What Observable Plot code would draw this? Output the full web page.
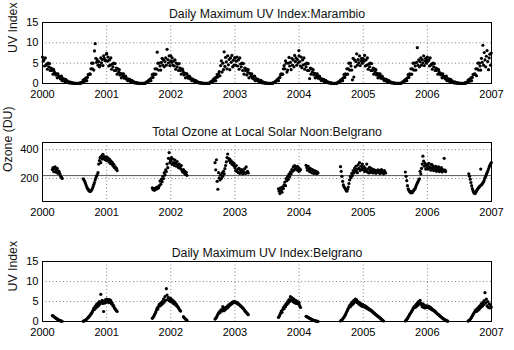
<!DOCTYPE html>
<html><head><meta charset="utf-8">
<script src="https://cdn.jsdelivr.net/npm/d3@7"></script>
<script src="https://cdn.jsdelivr.net/npm/@observablehq/plot@0.6"></script>
<style>
html,body{margin:0;padding:0;background:#fff;}
#chart svg{display:block;}
</style></head><body><div id="chart"></div>
<script>
const years = [2000, 2001, 2002, 2003, 2004, 2005, 2006];
const stepDays = 4; // one reading every 4 days; each segment = [index of first reading in the year, readings]
const xTicks = [2000, 2001, 2002, 2003, 2004, 2005, 2006, 2007];
const uvTicks = [0, 5, 10, 15];
const ozoneTicks = [200, 400];
const ozoneThreshold = [220];
const titles = ["Daily Maximum UV Index:Marambio", "Total Ozone at Local Solar Noon:Belgrano", "Daily Maximum UV Index:Belgrano"];
const yLabels = ["UV Index", "Ozone (DU)", "UV Index"];

const marambioUV = [
 [[0, [6.5,5.5,5.8,4.3,6.3,4.5,4.8,3.5,5.0,4.1, 4.9,3.2,3.8,3.2,3.6,2.3,3.4,2.8,2.5,2.1, 2.4,1.4,2.4,1.8,1.7,1.3,1.1,1.8,.7,1.2, .75,1.1,.44,1.0,.77,.63,.36,.33,.13,.41, .13,.22,.07,.17,.04,.08,.05,.03,.04,.02, .05,.03,.06,.04,.2,.08,.25,.4,.85,.5, 1.1,.65,1.4,.7,1.5,2.2,2.2,2.4,2.3,3.6, 5.0,3.6,5.0,3.3,8.0,9.8,6.2,5.2,5.8,4.5, 5.4,4.1,4.5,6.3,5.1,5.9,4.4,6.8,6.2,5.6, 5.7,7.2]]],
 [[0, [7.4,5.5,6.5,4.3,5.8,4.5,6.3,3.5,4.8,4.1, 5.0,3.2,4.9,3.2,3.8,2.3,3.6,2.8,3.4,2.1, 2.5,1.4,2.4,1.8,2.4,1.3,1.7,1.8,1.1,1.2, .7,1.1,.75,1.0,.44,.63,.77,.33,.36,.41, .13,.22,.13,.17,.07,.08,.04,.03,.05,.02, .04,.03,.05,.04,.06,.08,.2,.4,.25,.5, .85,.65,1.1,.7,1.4,2.2,1.5,2.4,2.2,3.6, 2.3,3.6,7.7,5.0,3.3,5.0,4.3,3.3,5.2,6.2, 4.5,5.8,4.1,5.4,6.3,4.5,8.4,5.9,5.1,6.8, 4.4,5.6]]],
 [[0, [6.8,5.2,6.3,4.5,5.5,4.3,5.8,3.5,5.0,4.1, 4.8,3.2,4.9,3.8,3.2,2.3,3.6,3.4,2.8,2.1, 2.5,1.4,2.4,2.4,1.8,1.3,1.8,1.7,1.1,1.2, .7,1.1,1.0,.75,.44,.77,.63,.33,.41,.36, .13,.22,.17,.13,.07,.08,.04,.05,.03,.02, .04,.05,.03,.06,.04,.08,.2,.4,.5,.25, .85,1.1,.65,1.4,.7,1.5,2.2,1.6,2.4,2.9, 1.9,4.4,5.6,2.8,5.0,3.4,7.8,4.2,6.4,5.3, 3.6,6.8,4.6,5.9,3.4,6.3,5.2,6.9,4.1,5.7, 4.5,6.3]]],
 [[0, [6.3,4.5,5.5,6.5,4.3,5.8,3.5,6.3,4.8,4.1, 5.0,3.2,4.9,2.3,3.8,3.2,3.6,2.1,2.8,3.4, 1.4,2.5,2.4,1.8,2.4,1.3,1.7,1.1,1.8,.7, 1.2,1.1,.75,1.0,.44,.63,.33,.77,.36,.13, .41,.22,.13,.07,.17,.08,.04,.03,.05,.02, .04,.05,.03,.06,.08,.2,.25,.4,.5,.65, .85,1.1,.7,1.4,1.5,2.2,2.4,2.2,2.3,3.6, 4.4,3.6,5.6,5.0,2.8,3.3,5.0,6.4,4.3,5.2, 3.4,6.2,4.5,5.8,4.1,6.9,5.4,6.3,4.5,5.9, 5.1,8.1]]],
 [[0, [6.8,5.4,4.3,6.5,3.9,5.8,4.6,6.3,3.5,4.8, 4.1,5.0,3.2,4.9,3.2,1.2,3.8,2.3,3.6,2.8, 3.4,2.1,2.5,1.4,2.4,1.8,2.4,1.3,1.7,1.8, 1.1,1.2,.7,1.1,.75,1.0,.44,.63,.77,.33, .36,.41,.13,.22,.13,.17,.07,.04,.05,.03, .04,.02,.05,.04,.08,.2,.4,.25,.5,.85, .65,1.1,.7,1.4,2.2,1.5,2.4,2.2,3.6,2.3, 3.6,5.0,3.3,5.0,4.3,3.3,.9,6.2,1.6,5.8, 4.1,5.4,7.3,4.5,5.9,5.1,6.8,4.4,5.6,6.2, 5.0,5.7]]],
 [[0, [6.1,5.5,6.9,4.3,5.8,4.5,6.3,3.5,4.8,4.1, 5.0,3.2,4.9,3.2,3.8,2.3,3.6,2.8,3.4,2.1, 2.5,1.4,2.4,1.8,2.4,1.3,1.7,1.8,1.1,1.2, .7,1.1,.75,1.0,.44,.63,.77,.33,.36,.41, .13,.22,.13,.17,.07,.08,.04,.03,.05,.02, .04,.03,.05,.04,.06,.2,.4,.25,.5,.85, .65,1.1,.7,1.4,2.2,1.5,2.4,2.2,3.6,2.3, 3.6,5.0,3.3,5.0,4.3,3.3,5.2,8.8,4.5,5.8, 4.1,5.4,6.3,4.5,5.9,5.1,6.8,4.4,5.6,6.2, 5.0,5.7]]],
 [[0, [6.5,5.5,5.8,4.3,6.3,4.5,4.8,3.5,5.0,4.1, 4.9,3.2,3.8,3.2,3.6,2.3,3.4,2.8,2.5,2.1, 2.4,1.4,2.4,1.8,1.7,1.3,1.1,1.8,.7,1.2, .75,1.1,.44,1.0,.77,.63,.36,.33,.13,.41, .13,.22,.07,.17,.04,.08,.05,.03,.04,.02, .05,.03,.06,.04,.2,.08,.25,.4,.85,.5, 1.1,.65,1.4,.7,1.5,2.2,2.2,2.4,2.3,3.6, 1.9,3.6,5.0,3.3,5.0,4.3,3.3,6.2,5.2,9.4, 4.5,7.6,5.8,4.1,6.7,8.1,5.4,3.4,6.3,7.2, 4.5,7.5]]]
];

const belgranoOzone = [
 [[14, [262,275,248,268,280,244,258,270,236,252,245,228,215,208,200]],
  [58, [198,190,180,168,155,142,132,124,117,112,110,114,120,130,143,158,172,190,205,218,226,240,300,325,345,310,355,335,368,340,352,330,345,325]]],
 [[0, [350,328,342,318,335,305,322,300,312,288,298,276,282,265,270,255]],
  [65, [135,122,130,118,132,125,138,128,142,135,150,182,160,195,178,215,200,240,225,260,248,300,275,340,380,310,330]]],
 [[0, [320,345,298,335,310,290,328,305,285,318,295,275,300,282,268,290,255,245,262,238,250,228,242,222]],
  [63, [310,260,330,180,125,240,205,190,225,200,238,215,250,232,268,290,315,345,370,340,325,335,310,322,300,312,292,305,285]]],
 [[0, [275,255,290,248,265,240,270,236,258,245,262,232,250,240,268,235,280,242,250,238]],
  [62, [128,112,95,135,118,105,142,130,155,175,150,200,185,215,195,230,212,245,232,262,250,280,258,290,268,275,260,285,265,250]]],
 [[0, [272,255,262]],
  [10, [292,275,258,285,265,248,270,255,240,262,245,235,255,240,250,232,245,238]],
  [59, [282,250,215,180,155,142,135,128,118,112,125,140,165,190,215,205,235,220,255,238,270,250,285,262,240,295,270,310,255,285,265,300,275]]],
 [[0, [260,282,248,270,255,300,245,265,238,278,255,242,268,250,238,262,248,256,236,252,244,260,240,255,235,250,262,240,248,232,255,245,238]],
  [60, [245,215,185,150,128,118,110,104,100,108,102,112,118,125,132,145,158,168,178,190,198,250,232,270,300,355,320,285,305,265,295,275]]],
 [[0, [292,265,305,275,282,258,298,270,288,255,278,262,285,250,272,258,280,248,265,255,275,245,262,252,340,258,248]],
  [59, [232,215,195,172,150,130,115,105,98,95,105,115,122,130,136,142,148,265,155,162,170,178,190,205,215,228,240,252,265,280,292,300,310]]]
];

const belgranoUV = [
 [[14, [1.5,1.4,1.25,1.1,.95,.85,.7,.6,.5,.4,.3,.22,.15,.1,.06]],
  [58, [.08,.12,.2,.3,.45,.6,.8,1.0,1.2,1.4,1.6,1.9,2.1,2.4,2.8,3.3,3.0,3.8,3.4,4.3,3.7,4.6,4.0,5.0,4.4,6.8,4.8,5.3,4.5,2.5,5.1,4.6,5.5,4.9]]],
 [[0, [5.6,5.0,5.4,4.7,5.5,4.9,5.2,4.4,4.6,3.9,4.0,3.4,3.2,2.9,2.7,2.5]],
  [65, [.8,1.0,1.3,1.6,2.0,2.4,2.9,3.4,3.1,3.8,4.3,3.9,4.6,4.2,5.0,4.5,5.6,4.9,6.2,5.3,8.2,6.6,5.5,6.0,5.2,5.8,5.0]]],
 [[0, [5.7,5.0,5.4,4.6,5.1,4.4,4.8,4.1,4.3,3.8,3.7,3.4,3.1,2.8,2.6]],
  [18, [1.2,1.0,.8,.6,.45,.3]],
  [63, [.6,.8,1.1,1.4,1.8,2.1,2.4,2.2,2.7,3.0,2.6,3.7,3.1,2.7,3.4,3.0,3.6,3.3,3.9,3.6,4.2,4.0,4.5,4.3,4.8,4.6,5.0,4.7,4.9]]],
 [[0, [4.8,4.9,4.6,4.7,4.4,4.5,4.2,4.1,3.9,3.7,3.6,3.4,3.2,3.0,2.7,2.5,2.3,2.1,1.9,1.7]],
  [62, [1.0,1.3,1.7,2.1,2.6,2.3,3.0,3.5,3.2,4.0,3.7,4.5,4.2,5.0,4.6,5.5,5.0,6.2,5.4,6.0,5.1,5.7,4.8,5.4,4.6,5.2,4.5,5.0,4.4,4.8]]],
 [[0, [4.4,3.9,3.5]],
  [10, [1.3,1.2,1.1,1.0,.9,.8,.7,.6,.5,.42,.35,.28,.22,.17,.12,.08,.05,.03]],
  [59, [.15,.25,.4,.6,.85,1.1,1.4,1.7,2.1,2.5,2.9,3.2,3.6,4.0,3.7,4.5,4.1,4.9,4.4,5.3,4.8,5.6,5.1,5.4,4.7,5.0,4.4,4.7,4.1,4.5,3.9,4.3,3.7]]],
 [[0, [4.1,3.7,4.0,3.5,3.8,3.3,3.5,3.1,3.2,2.9,3.0,2.7,2.7,2.4,2.4,2.1,2.1,1.8,1.8,1.5,1.5,1.2,1.2,1.0,.9,.7,.55,.4,.25,.12]],
  [60, [.15,.3,.55,.8,1.1,1.4,1.7,2.0,2.3,2.6,2.9,3.2,3.5,3.8,3.5,4.2,3.8,4.6,4.1,5.0,4.4,5.3,4.6,4.2,3.7,4.4,3.5,4.1,3.4,3.9,3.5,3.8]]],
 [[0, [3.9,3.5,3.8,3.3,3.6,3.1,3.3,2.9,3.0,2.7,2.7,2.4,2.4,2.1,2.0,1.8,1.7,1.5,1.4,1.2,1.1,.9,.8,.65,.55,.42,.32,.22,.15,.08]],
  [58, [.1,.2,.35,.55,.8,1.1,1.4,1.7,2.0,2.3,2.6,2.9,2.5,3.2,2.8,3.6,3.1,4.0,3.5,4.5,3.8,4.8,4.2,5.2,7.2,4.6,5.6,3.9,5.0,3.5,4.4,3.4,4.1,3.6]]]
];

function toRows(series) {
  return series.flatMap((segments, k) =>
    segments.flatMap(([start, vals]) =>
      vals.map((v, j) => ({x: years[k] + (start + j) * stepDays / 365.25, y: v}))));
}

const font = "'Liberation Sans', Arial, Helvetica, sans-serif";

function panel({rows, title, ylabel, yDomain, yTicks, height, mt, mb, titleDy, ylabelDx, extra = []}) {
  return Plot.plot({
    width: 514, height,
    marginLeft: 42, marginRight: 23, marginTop: mt, marginBottom: mb,
    style: {fontFamily: font, fontSize: "11px", color: "#000", background: "#fff", overflow: "visible"},
    x: {domain: [2000, 2007], label: null},
    y: {domain: yDomain, label: null},
    marks: [
      Plot.gridX(xTicks, {stroke: "#808080", strokeOpacity: 1, strokeDasharray: "1,2.5"}),
      Plot.gridY(yTicks, {stroke: "#808080", strokeOpacity: 1, strokeDasharray: "1,2.5"}),
      ...extra,
      Plot.dot(rows, {x: "x", y: "y", r: 1.6, fill: "#000", stroke: null}),
      Plot.axisX(xTicks, {tickSize: 0, tickPadding: 7, tickFormat: d => String(d), fontSize: 11, label: null}),
      Plot.axisY(yTicks, {tickSize: 0, tickPadding: 4, fontSize: 11, label: null}),
      Plot.frame({stroke: "#000", strokeWidth: 1}),
      Plot.text([title], {frameAnchor: "top", dy: titleDy, fontSize: 12.3, fill: "#111"}),
      Plot.text([ylabel], {frameAnchor: "left", dx: ylabelDx, rotate: -90, fontSize: 12.3, fill: "#111"})
    ]
  });
}

const chart = document.getElementById("chart");
chart.append(panel({rows: toRows(marambioUV), title: titles[0], ylabel: yLabels[0], yDomain: [0, 15], yTicks: uvTicks,
  height: 115, mt: 22, mb: 32, titleDy: -13, ylabelDx: -29}));
chart.append(panel({rows: toRows(belgranoOzone), title: titles[1], ylabel: yLabels[1], yDomain: [40, 450], yTicks: ozoneTicks,
  height: 115, mt: 27, mb: 29, titleDy: -15, ylabelDx: -34,
  extra: [Plot.ruleY(ozoneThreshold, {stroke: "#555", strokeWidth: 1})]}));
chart.append(panel({rows: toRows(belgranoUV), title: titles[2], ylabel: yLabels[2], yDomain: [0, 15], yTicks: uvTicks,
  height: 120, mt: 31, mb: 29, titleDy: -13, ylabelDx: -29}));
</script></body></html>
